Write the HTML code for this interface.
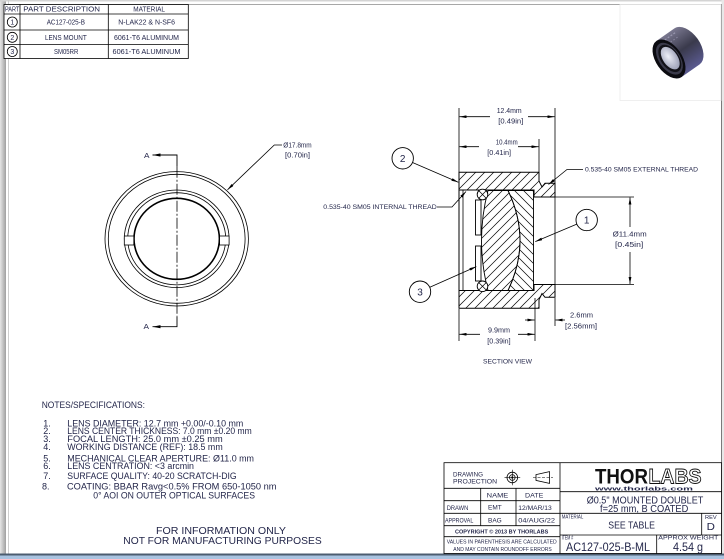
<!DOCTYPE html>
<html><head><meta charset="utf-8"><style>
html,body{margin:0;padding:0;background:#fff;}
svg{display:block;}
text{font-family:"Liberation Sans",sans-serif;fill:#23264a;}
</style></head><body>
<svg width="724" height="559" viewBox="0 0 724 559" xmlns="http://www.w3.org/2000/svg">
<defs>
<linearGradient id="lg" x1="0" x2="1" y1="0" y2="0"><stop offset="0" stop-color="#e6e6e6"/><stop offset="1" stop-color="#a0a0a0"/></linearGradient>
<linearGradient id="bodyg" x1="0" x2="0" y1="0" y2="1"><stop offset="0" stop-color="#7a7890"/><stop offset="0.5" stop-color="#3a3a4c"/><stop offset="1" stop-color="#5a5a90"/></linearGradient>
<radialGradient id="glass" cx="0.45" cy="0.4" r="0.6"><stop offset="0" stop-color="#eef0f8"/><stop offset="1" stop-color="#9ea2b8"/></radialGradient>
<marker id="a" viewBox="0 0 10 4" refX="10" refY="2" markerWidth="7" markerHeight="2.8" orient="auto" markerUnits="userSpaceOnUse"><path d="M0,0L10,2L0,4z" fill="#000"/></marker>
<marker id="b" viewBox="0 0 10 4" refX="10" refY="2" markerWidth="8" markerHeight="3.2" orient="auto" markerUnits="userSpaceOnUse"><path d="M0,0L10,2L0,4z" fill="#000"/></marker>
<pattern id="h1" patternUnits="userSpaceOnUse" width="9" height="9"><path d="M-1,1L1,-1M0,9L9,0M8,10L10,8" stroke="#000" stroke-width="0.7"/></pattern>
<pattern id="h2" patternUnits="userSpaceOnUse" width="9" height="9"><path d="M-1,8L1,10M0,0L9,9M8,-1L10,1" stroke="#000" stroke-width="0.7"/></pattern>
</defs>

<!-- sheet frame -->
<rect x="0" y="0" width="724" height="559" fill="#fff"/>
<rect x="0" y="0" width="6" height="554" fill="url(#lg)"/>
<rect x="0" y="0" width="724" height="1.5" fill="#d4d4d4"/>
<line x1="8.5" y1="0" x2="8.5" y2="554" stroke="#cfcfcf" stroke-width="1"/>
<line x1="4" y1="4.5" x2="721.5" y2="4.5" stroke="#8a8a8a" stroke-width="0.8"/>
<rect x="721.5" y="0" width="2.5" height="554" fill="#e8e8e8"/>
<line x1="721.5" y1="4" x2="721.5" y2="554" stroke="#7a7a7a" stroke-width="1"/>
<rect x="0" y="553.5" width="724" height="2" fill="#4c5d70"/>
<rect x="0" y="555.5" width="724" height="3.5" fill="#a9c3e0"/>

<!-- parts table -->
<rect x="4" y="4.5" width="184.3" height="54" fill="#fff"/>
<g stroke="#000" stroke-width="0.8" fill="none">
<rect x="4" y="4.5" width="184.3" height="54"/>
<line x1="4" y1="14" x2="188.3" y2="14"/>
<line x1="4" y1="30" x2="188.3" y2="30"/>
<line x1="4" y1="44.5" x2="188.3" y2="44.5"/>
<line x1="20" y1="4.5" x2="20" y2="58.5"/>
<line x1="108.3" y1="4.5" x2="108.3" y2="58.5"/>
<circle cx="12.3" cy="22" r="5"/>
<circle cx="12.3" cy="37.3" r="5"/>
<circle cx="12.3" cy="51.5" r="5"/>
</g>
<g font-size="7.2">
<text x="5" y="11.6" textLength="14.3" lengthAdjust="spacingAndGlyphs">PART</text>
<text x="23.3" y="11.6" textLength="76.7" lengthAdjust="spacingAndGlyphs">PART DESCRIPTION</text>
<text x="133.3" y="11.6" textLength="31.7" lengthAdjust="spacingAndGlyphs">MATERIAL</text>
<text x="46.7" y="24.6" textLength="38.3" lengthAdjust="spacingAndGlyphs">AC127-025-B</text>
<text x="118.3" y="24.6" textLength="56.7" lengthAdjust="spacingAndGlyphs">N-LAK22 &amp; N-SF6</text>
<text x="45" y="39.9" textLength="41.7" lengthAdjust="spacingAndGlyphs">LENS MOUNT</text>
<text x="114" y="39.9" textLength="65" lengthAdjust="spacingAndGlyphs">6061-T6 ALUMINUM</text>
<text x="54" y="54.1" textLength="24.3" lengthAdjust="spacingAndGlyphs">SM05RR</text>
<text x="112.5" y="54.1" textLength="68" lengthAdjust="spacingAndGlyphs">6061-T6 ALUMINUM</text>
<text x="12.3" y="24.5" text-anchor="middle" font-size="7">1</text>
<text x="12.3" y="39.8" text-anchor="middle" font-size="7">2</text>
<text x="12.3" y="54" text-anchor="middle" font-size="7">3</text>
</g>

<!-- lens picture -->
<rect x="620" y="4.5" width="101" height="96" fill="none" stroke="#ececec" stroke-width="0.8"/>
<g transform="translate(669,59) rotate(-35)">
<path d="M0,-22 L22,-22 A13,22 0 0 1 22,22 L0,22 Z" fill="url(#bodyg)"/>
<path d="M4,-18 L20,-18" stroke="#9a98b0" stroke-width="1.2" stroke-dasharray="2 1.5"/>
<path d="M4,-13 L20,-13" stroke="#8a88a0" stroke-width="1" stroke-dasharray="1.5 2"/>
<ellipse cx="0" cy="0" rx="13" ry="22" fill="#0b0b10"/>
<ellipse cx="0.5" cy="0" rx="10.5" ry="18" fill="#3a3a4a"/>
<ellipse cx="1" cy="0" rx="9" ry="15.5" fill="#121218"/>
<ellipse cx="1.5" cy="0" rx="7.3" ry="12.8" fill="url(#glass)"/>
</g>

<!-- front view -->
<g fill="none" stroke="#000">
<ellipse cx="176.7" cy="238.8" rx="71.7" ry="67.2" stroke-width="0.8"/>
<ellipse cx="176.7" cy="238.8" rx="68.4" ry="64.5" stroke-width="0.8"/>
<ellipse cx="176.7" cy="238.8" rx="52.4" ry="48.8" stroke-width="0.8"/>
<ellipse cx="176.7" cy="238.8" rx="49" ry="46.1" stroke-width="0.8"/>
<ellipse cx="176.7" cy="238.8" rx="42.7" ry="40.5" stroke-width="1.6"/>
<rect x="124.3" y="236" width="9.5" height="9" fill="#fff" stroke-width="0.8"/>
<rect x="219.6" y="236" width="9.5" height="9" fill="#fff" stroke-width="0.8"/>
<line x1="177" y1="166.7" x2="177" y2="316.7" stroke-width="0.8" stroke-dasharray="11 2 2 2"/>
<polyline points="177,166.7 177,155 152.5,155" stroke-width="0.9" marker-end="url(#b)"/>
<polyline points="177,316.7 177,326.7 152.5,326.7" stroke-width="0.9" marker-end="url(#b)"/>
<polyline points="282,145 274.3,145 227.5,189.8" stroke-width="0.8" marker-end="url(#a)"/>
</g>
<text x="144" y="157.8" font-size="7.5" textLength="5.5" lengthAdjust="spacingAndGlyphs">A</text>
<text x="143.5" y="328.8" font-size="7.5" textLength="5.5" lengthAdjust="spacingAndGlyphs">A</text>
<text x="283.3" y="147.5" font-size="7" textLength="28.4" lengthAdjust="spacingAndGlyphs">Ø17.8mm</text>
<text x="285" y="157.5" font-size="7" textLength="25" lengthAdjust="spacingAndGlyphs">[0.70in]</text>

<!-- section view -->
<g stroke="#000" stroke-width="1">
<path d="M459,172.3 L539,172.3 L539,181 L542,187 L545,183.3 L555,183.3 L555,197 L534,197 L534,190 L459,190 Z" fill="url(#h1)"/>
<path d="M459,308.3 L539,308.3 L539,299.6 L542,293.6 L545,297.3 L555,297.3 L555,284.5 L534,284.5 L534,290.5 L459,290.5 Z" fill="url(#h1)"/>
<line x1="459" y1="190" x2="459" y2="290.5"/>
<line x1="463" y1="190" x2="463" y2="290.5" stroke-width="0.8"/>
<line x1="555" y1="197" x2="555" y2="284.5" stroke-width="0.8"/>
<path d="M488,190.5 Q475,240.5 488,290.5 L508,290.5 Q532,240.5 508,190.5 Z" fill="url(#h1)" stroke-width="0.9"/>
<path d="M508,190.5 Q532,240.5 508,290.5 L533.5,290.5 L533.5,190.5 Z" fill="url(#h2)" stroke-width="0.9"/>
<rect x="475.5" y="200" width="5.5" height="35" fill="#fff" stroke-width="0.9"/>
<rect x="475.5" y="246" width="5.5" height="35" fill="#fff" stroke-width="0.9"/>
<circle cx="482.5" cy="194.5" r="5.3" fill="#fff" stroke-width="0.9"/>
<circle cx="482.5" cy="286.3" r="5.3" fill="#fff" stroke-width="0.9"/>
<path d="M478.8,190.8L486.2,198.2M486.2,190.8L478.8,198.2M478.8,282.6L486.2,290M486.2,282.6L478.8,290" stroke-width="0.7"/>
</g>
<g fill="none" stroke="#000" stroke-width="0.8">
<line x1="459" y1="108" x2="459" y2="172"/>
<line x1="555" y1="108" x2="555" y2="183"/>
<line x1="539" y1="139" x2="539" y2="172"/>
<line x1="459" y1="309" x2="459" y2="341"/>
<line x1="535" y1="298" x2="535" y2="341"/>
<line x1="555" y1="298" x2="555" y2="326"/>
<line x1="534" y1="197" x2="634" y2="197"/>
<line x1="534" y1="284.5" x2="634" y2="284.5"/>
<line x1="490" y1="116.7" x2="459.5" y2="116.7" marker-end="url(#a)"/>
<line x1="528" y1="116.7" x2="554.5" y2="116.7" marker-end="url(#a)"/>
<line x1="479" y1="146.7" x2="459.5" y2="146.7" marker-end="url(#a)"/>
<line x1="518" y1="146.7" x2="538.5" y2="146.7" marker-end="url(#a)"/>
<line x1="480" y1="334.3" x2="459.5" y2="334.3" marker-end="url(#a)"/>
<line x1="518" y1="334.3" x2="534.5" y2="334.3" marker-end="url(#a)"/>
<line x1="525" y1="320" x2="534.5" y2="320" marker-end="url(#a)"/>
<line x1="565" y1="320" x2="555.5" y2="320" marker-end="url(#a)"/>
<line x1="630" y1="227" x2="630" y2="197.5" marker-end="url(#a)"/>
<line x1="630" y1="252" x2="630" y2="284" marker-end="url(#a)"/>
<line x1="412.5" y1="162.5" x2="458.3" y2="182.2" marker-end="url(#a)"/>
<line x1="429.8" y1="287.3" x2="476.3" y2="266.6" marker-end="url(#a)"/>
<line x1="576.8" y1="224.1" x2="535.3" y2="241.6" marker-end="url(#a)"/>
<polyline points="437,207 452,207 466,191.5" marker-end="url(#a)"/>
<polyline points="583,169.5 567,169.5 548.5,184.5" marker-end="url(#a)"/>
</g>
<g fill="#fff" stroke="#000" stroke-width="0.9">
<circle cx="402.7" cy="158.3" r="10.7"/>
<circle cx="420" cy="291.7" r="10.7"/>
<circle cx="586.7" cy="220" r="10.7"/>
</g>
<g font-size="10" text-anchor="middle" fill="#222">
<text x="402.7" y="161.9">2</text>
<text x="420" y="295.3">3</text>
<text x="586.7" y="223.6">1</text>
</g>
<g font-size="7">
<text x="496.7" y="113" textLength="25" lengthAdjust="spacingAndGlyphs">12.4mm</text>
<text x="498.3" y="123.5" textLength="25" lengthAdjust="spacingAndGlyphs">[0.49in]</text>
<text x="495.7" y="144.3" textLength="22" lengthAdjust="spacingAndGlyphs">10.4mm</text>
<text x="487.3" y="155" textLength="23.7" lengthAdjust="spacingAndGlyphs">[0.41in]</text>
<text x="488" y="332.3" textLength="22" lengthAdjust="spacingAndGlyphs">9.9mm</text>
<text x="487.3" y="343.3" textLength="23.3" lengthAdjust="spacingAndGlyphs">[0.39in]</text>
<text x="570" y="317.7" textLength="23" lengthAdjust="spacingAndGlyphs">2.6mm</text>
<text x="565" y="328.3" textLength="32" lengthAdjust="spacingAndGlyphs">[2.56mm]</text>
<text x="612.7" y="236.3" textLength="34" lengthAdjust="spacingAndGlyphs">Ø11.4mm</text>
<text x="615" y="247" textLength="28.3" lengthAdjust="spacingAndGlyphs">[0.45in]</text>
</g>
<g font-size="6.3">
<text x="585" y="171.7" textLength="113" lengthAdjust="spacingAndGlyphs">0.535-40 SM05 EXTERNAL THREAD</text>
<text x="323.3" y="209.2" textLength="113.4" lengthAdjust="spacingAndGlyphs">0.535-40 SM05 INTERNAL THREAD</text>
<text x="483" y="363.5" textLength="49" lengthAdjust="spacingAndGlyphs">SECTION VIEW</text>
</g>

<!-- notes -->
<g font-size="9" fill="#1f2140">
<text x="41.7" y="408.2" textLength="103.3" lengthAdjust="spacingAndGlyphs">NOTES/SPECIFICATIONS:</text>
<text x="43.3" y="426.5">1.</text>
<text x="67.3" y="426.5" textLength="176" lengthAdjust="spacingAndGlyphs">LENS DIAMETER: 12.7 mm +0.00/-0.10 mm</text>
<text x="43.3" y="434.2">2.</text>
<text x="67.3" y="434.2" textLength="184.4" lengthAdjust="spacingAndGlyphs">LENS CENTER THICKNESS: 7.0 mm ±0.20 mm</text>
<text x="43.3" y="442.2">3.</text>
<text x="67.3" y="442.2" textLength="155.4" lengthAdjust="spacingAndGlyphs">FOCAL LENGTH: 25.0 mm  ±0.25 mm</text>
<text x="43.3" y="449.9">4.</text>
<text x="67.3" y="449.9" textLength="155.4" lengthAdjust="spacingAndGlyphs">WORKING DISTANCE (REF): 18.5 mm</text>
<text x="43.3" y="461.5">5.</text>
<text x="67.3" y="461.5" textLength="186.7" lengthAdjust="spacingAndGlyphs">MECHANICAL CLEAR APERTURE: Ø11.0 mm</text>
<text x="43.3" y="469.2">6.</text>
<text x="67.3" y="469.2" textLength="126.7" lengthAdjust="spacingAndGlyphs">LENS CENTRATION: &lt;3 arcmin</text>
<text x="43.3" y="479.2">7.</text>
<text x="67.3" y="479.2" textLength="169.4" lengthAdjust="spacingAndGlyphs">SURFACE QUALITY: 40-20 SCRATCH-DIG</text>
<text x="42" y="489.6">8.</text>
<text x="67" y="489.6" textLength="209.5" lengthAdjust="spacingAndGlyphs">COATING: BBAR Ravg&lt;0.5% FROM  650-1050 nm</text>
<text x="93.3" y="498.5" textLength="161.7" lengthAdjust="spacingAndGlyphs">0° AOI ON OUTER OPTICAL SURFACES</text>
</g>
<g font-size="10.3" fill="#1f2140">
<text x="156" y="534" textLength="130" lengthAdjust="spacingAndGlyphs">FOR INFORMATION ONLY</text>
<text x="123.3" y="544" textLength="198.4" lengthAdjust="spacingAndGlyphs">NOT FOR MANUFACTURING PURPOSES</text>
</g>

<!-- title block -->
<g fill="none" stroke="#000" stroke-width="0.8">
<rect x="444" y="462.7" width="277.5" height="90.8" fill="#fff"/>
<line x1="560" y1="462.7" x2="560" y2="553.5"/>
<line x1="444" y1="488.3" x2="560" y2="488.3"/>
<line x1="444" y1="500.7" x2="560" y2="500.7"/>
<line x1="444" y1="513.3" x2="560" y2="513.3"/>
<line x1="444" y1="525.7" x2="560" y2="525.7"/>
<line x1="444" y1="536.7" x2="560" y2="536.7"/>
<line x1="480.7" y1="488.3" x2="480.7" y2="525.7"/>
<line x1="516" y1="488.3" x2="516" y2="525.7"/>
<line x1="560" y1="491.7" x2="721.5" y2="491.7"/>
<line x1="560" y1="513.3" x2="721.5" y2="513.3"/>
<line x1="560" y1="535" x2="721.5" y2="535"/>
<line x1="701.7" y1="513.3" x2="701.7" y2="535"/>
<line x1="656.7" y1="535" x2="656.7" y2="553.5"/>
<circle cx="512.3" cy="477.5" r="5.3"/>
<circle cx="512.3" cy="477.5" r="2.8"/>
<line x1="504.5" y1="477.5" x2="520.2" y2="477.5" stroke-width="0.6"/>
<line x1="512.3" y1="469.7" x2="512.3" y2="485.3" stroke-width="0.6"/>
<path d="M536,474.6 L549.5,471.6 L549.5,483.4 L536,480.4 Z"/>
<line x1="533" y1="477.5" x2="553" y2="477.5" stroke-width="0.6" stroke-dasharray="3 1.5"/>
</g>
<circle cx="512.3" cy="477.5" r="1.1" fill="#000"/>
<g font-size="6.4">
<text x="453" y="476.7" textLength="30" lengthAdjust="spacingAndGlyphs">DRAWING</text>
<text x="453" y="483.3" textLength="44" lengthAdjust="spacingAndGlyphs">PROJECTION</text>
<text x="486.7" y="497.3" textLength="21.6" lengthAdjust="spacingAndGlyphs">NAME</text>
<text x="525" y="497.3" textLength="18.3" lengthAdjust="spacingAndGlyphs">DATE</text>
<text x="446.7" y="510" textLength="21.6" lengthAdjust="spacingAndGlyphs">DRAWN</text>
<text x="488" y="509.7" textLength="13.7" lengthAdjust="spacingAndGlyphs">EMT</text>
<text x="518.3" y="510" textLength="33.4" lengthAdjust="spacingAndGlyphs">12/MAR/13</text>
<text x="445" y="522.5" textLength="28.3" lengthAdjust="spacingAndGlyphs">APPROVAL</text>
<text x="488" y="522.5" textLength="13.7" lengthAdjust="spacingAndGlyphs">BAG</text>
<text x="518.3" y="522.5" textLength="36.7" lengthAdjust="spacingAndGlyphs">04/AUG/22</text>
</g>
<text x="455" y="533.6" font-size="5.3" font-weight="bold" textLength="93.3" lengthAdjust="spacingAndGlyphs">COPYRIGHT © 2013 BY THORLABS</text>
<text x="446.7" y="543.3" font-size="5.2" textLength="110" lengthAdjust="spacingAndGlyphs">VALUES IN PARENTHESIS ARE CALCULATED</text>
<text x="453.3" y="551" font-size="5.2" textLength="98.4" lengthAdjust="spacingAndGlyphs">AND MAY CONTAIN ROUNDOFF ERRORS</text>
<text x="595" y="483.5" font-size="21" font-weight="bold" style="fill:#111" textLength="53" lengthAdjust="spacingAndGlyphs">THOR</text>
<text x="648.5" y="483.5" font-size="21" font-weight="bold" style="fill:#fff;stroke:#111;stroke-width:0.9" textLength="53" lengthAdjust="spacingAndGlyphs">LABS</text>
<text x="595" y="490.7" font-size="5.5" font-weight="bold" textLength="98" lengthAdjust="spacingAndGlyphs">www.thorlabs.com</text>
<text x="586.7" y="503.3" font-size="10" textLength="116.6" lengthAdjust="spacingAndGlyphs">Ø0.5" MOUNTED DOUBLET</text>
<text x="600" y="511.9" font-size="10" textLength="88.3" lengthAdjust="spacingAndGlyphs">f=25 mm, B COATED</text>
<text x="561.7" y="518.3" font-size="5.5" textLength="21.6" lengthAdjust="spacingAndGlyphs">MATERIAL</text>
<text x="608.3" y="528.6" font-size="10" textLength="46.7" lengthAdjust="spacingAndGlyphs">SEE TABLE</text>
<text x="705" y="519" font-size="5.8" textLength="11.7" lengthAdjust="spacingAndGlyphs">REV</text>
<text x="706.7" y="530" font-size="10" textLength="8.3" lengthAdjust="spacingAndGlyphs">D</text>
<text x="561.7" y="539.5" font-size="5.5" textLength="11.6" lengthAdjust="spacingAndGlyphs">ITEM #</text>
<text x="566" y="551" font-size="11.5" textLength="84" lengthAdjust="spacingAndGlyphs">AC127-025-B-ML</text>
<text x="658.3" y="539.5" font-size="5.8" textLength="60" lengthAdjust="spacingAndGlyphs">APPROX WEIGHT</text>
<text x="673" y="551" font-size="11.5" textLength="30" lengthAdjust="spacingAndGlyphs">4.54 g</text>
</svg>
</body></html>
